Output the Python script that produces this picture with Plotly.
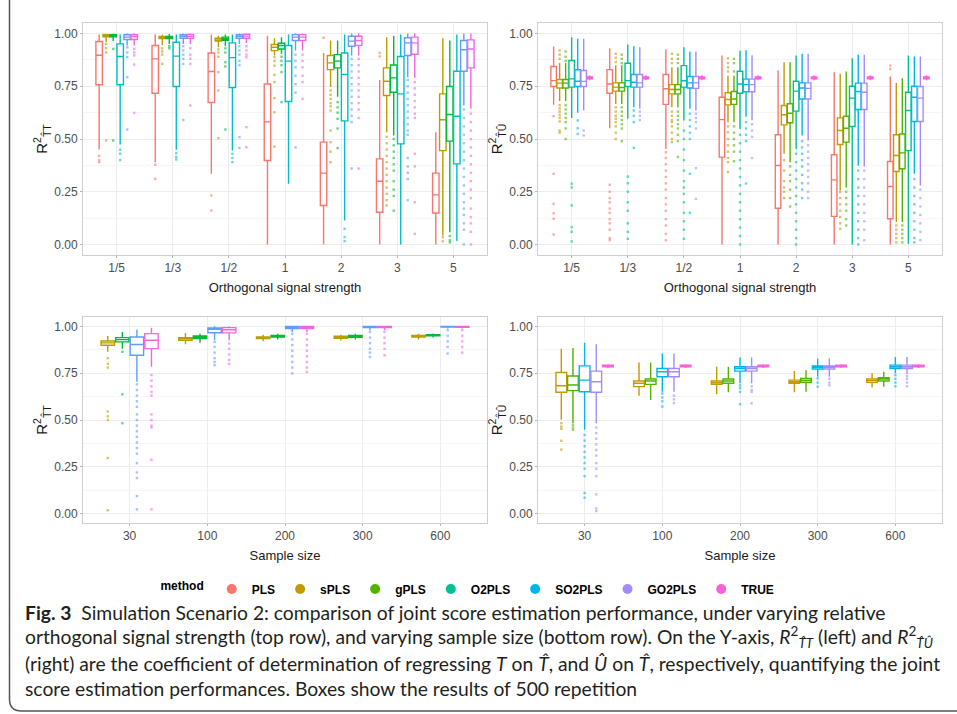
import plotly.graph_objects as go

# ---------------- data ----------------
TOP_CATS = ["1/5", "1/3", "1/2", "1", "2", "3", "5"]
BOT_CATS = ["30", "100", "200", "300", "600"]
METHODS = ["PLS", "sPLS", "gPLS", "O2PLS", "SO2PLS", "GO2PLS", "TRUE"]
COLORS6 = ["#F8766D", "#B79F00", "#00BA38", "#00BFC4", "#619CFF", "#F564E3"]
COLORS7 = ["#F8766D", "#C49A00", "#53B400", "#00C094", "#00B6EB", "#A58AFF", "#FB61D7"]

# Top-left: R2_TT vs orthogonal signal strength (rows = PLS..GO2PLS)
TL_Q1 = [[0.757, 0.717, 0.673, 0.398, 0.185, 0.153, 0.149],
         [0.984, 0.976, 0.964, 0.919, 0.829, 0.706, 0.445],
         [0.984, 0.976, 0.968, 0.927, 0.837, 0.722, 0.490],
         [0.757, 0.749, 0.744, 0.678, 0.586, 0.477, 0.382],
         [0.972, 0.978, 0.978, 0.967, 0.940, 0.896, 0.821],
         [0.972, 0.978, 0.978, 0.967, 0.944, 0.902, 0.837]]
TL_MED = [[0.897, 0.880, 0.820, 0.581, 0.338, 0.300, 0.235],
          [0.990, 0.980, 0.970, 0.935, 0.861, 0.774, 0.591],
          [0.990, 0.980, 0.975, 0.943, 0.869, 0.790, 0.616],
          [0.891, 0.893, 0.886, 0.869, 0.806, 0.714, 0.608],
          [0.983, 0.987, 0.987, 0.983, 0.964, 0.956, 0.923],
          [0.986, 0.987, 0.988, 0.983, 0.967, 0.956, 0.927]]
TL_Q3 = [[0.962, 0.943, 0.908, 0.761, 0.485, 0.406, 0.338],
         [0.994, 0.986, 0.978, 0.948, 0.896, 0.837, 0.714],
         [0.994, 0.986, 0.983, 0.954, 0.900, 0.851, 0.749],
         [0.951, 0.959, 0.956, 0.943, 0.908, 0.891, 0.821],
         [0.994, 0.995, 0.995, 0.995, 0.987, 0.980, 0.967],
         [0.995, 0.996, 0.997, 0.995, 0.987, 0.983, 0.970]]
TL_LF = [[0.450, 0.390, 0.335, 0.000, 0.000, 0.000, 0.000],
         [0.960, 0.945, 0.935, 0.896, 0.746, 0.532, 0.043],
         [0.965, 0.950, 0.940, 0.904, 0.700, 0.517, 0.058],
         [0.474, 0.449, 0.445, 0.288, 0.114, 0.000, 0.016],
         [0.943, 0.950, 0.950, 0.920, 0.896, 0.793, 0.659],
         [0.943, 0.950, 0.955, 0.920, 0.896, 0.790, 0.643]]
TL_UF = [[0.995, 0.995, 0.995, 0.990, 0.908, 0.780, 0.532],
         [0.999, 0.995, 0.990, 0.978, 0.967, 0.983, 0.978],
         [0.999, 0.998, 0.995, 0.983, 0.967, 0.990, 0.967],
         [0.995, 0.995, 0.995, 0.995, 0.995, 0.995, 0.995],
         [1.000, 1.000, 1.000, 1.000, 1.000, 1.000, 1.000],
         [1.000, 1.000, 1.000, 1.000, 1.000, 1.000, 1.000]]
TL_OUT = [
    [[0.42, 0.40, 0.39], [0.378, 0.311], [0.232, 0.161], [], [0.98], [0.908, 0.891], []],
    [[0.95, 0.93, 0.91, 0.493], [0.93, 0.915, 0.90, 0.856], [0.925, 0.91, 0.89, 0.817, 0.73, 0.504],
     [0.888, 0.87, 0.848, 0.804, 0.77, 0.694, 0.627, 0.464],
     [0.73, 0.71, 0.69, 0.67, 0.655, 0.635, 0.54, 0.485, 0.44, 0.39],
     [0.51, 0.48, 0.45, 0.42, 0.39, 0.36, 0.33, 0.30, 0.27, 0.24, 0.21, 0.185], [0.035, 0.015]],
    [[0.927, 0.493], [0.94, 0.93], [0.93, 0.91, 0.864, 0.844, 0.545], [0.89, 0.87, 0.85, 0.817, 0.675],
     [0.675, 0.65, 0.625, 0.596, 0.55, 0.457],
     [0.50, 0.47, 0.44, 0.41, 0.38, 0.35, 0.30, 0.26, 0.23, 0.16], [0.04, 0.02, 0.01]],
    [[0.449, 0.43, 0.40], [0.433, 0.415, 0.403], [0.43, 0.41, 0.39], [], [0.074, 0.035, 0.016], [], []],
    [[0.935, 0.91, 0.888, 0.793, 0.545], [0.94, 0.92, 0.90, 0.88, 0.856, 0.59],
     [0.94, 0.92, 0.90, 0.87, 0.85, 0.509, 0.458], [0.90, 0.87, 0.84, 0.80, 0.76, 0.72, 0.46],
     [0.88, 0.85, 0.82, 0.79, 0.76, 0.73, 0.70, 0.67, 0.64, 0.61, 0.58, 0.36],
     [0.78, 0.75, 0.72, 0.69, 0.66, 0.63, 0.60, 0.57, 0.54, 0.52, 0.41, 0.37, 0.34, 0.31, 0.21],
     [0.64, 0.60, 0.56, 0.52, 0.48, 0.44, 0.40, 0.36, 0.32, 0.28, 0.24, 0.20, 0.17, 0.14, 0.10, 0.07, 0.0]],
    [[0.927, 0.91, 0.896, 0.853, 0.624], [0.93, 0.90, 0.88, 0.856, 0.659],
     [0.94, 0.92, 0.90, 0.888, 0.556, 0.461], [0.90, 0.87, 0.84, 0.80, 0.77, 0.69],
     [0.88, 0.85, 0.82, 0.79, 0.76, 0.73, 0.70, 0.67, 0.64, 0.60, 0.36],
     [0.77, 0.74, 0.71, 0.68, 0.65, 0.62, 0.60, 0.43, 0.37, 0.20, 0.05],
     [0.62, 0.58, 0.54, 0.50, 0.46, 0.42, 0.38, 0.34, 0.30, 0.26, 0.22, 0.17, 0.13, 0.10, 0.06, 0.0]],
]

# Top-right: R2_TU vs orthogonal signal strength (rows = PLS..TRUE)
TR_Q1 = [[0.749, 0.717, 0.664, 0.414, 0.172, 0.133, 0.122],
         [0.742, 0.727, 0.714, 0.662, 0.567, 0.474, 0.346],
         [0.742, 0.727, 0.714, 0.664, 0.577, 0.485, 0.359],
         [0.746, 0.749, 0.746, 0.717, 0.632, 0.559, 0.445],
         [0.749, 0.746, 0.742, 0.724, 0.690, 0.640, 0.583],
         [0.749, 0.746, 0.740, 0.724, 0.690, 0.640, 0.583],
         [0.786, 0.786, 0.786, 0.786, 0.786, 0.786, 0.786]]
TR_MED = [[0.777, 0.761, 0.738, 0.592, 0.374, 0.306, 0.275],
          [0.765, 0.746, 0.735, 0.687, 0.615, 0.540, 0.422],
          [0.765, 0.744, 0.735, 0.690, 0.622, 0.551, 0.434],
          [0.785, 0.777, 0.776, 0.761, 0.727, 0.694, 0.635],
          [0.774, 0.769, 0.766, 0.758, 0.742, 0.725, 0.698],
          [0.773, 0.766, 0.766, 0.758, 0.740, 0.722, 0.694],
          [0.790, 0.790, 0.790, 0.790, 0.790, 0.790, 0.790]]
TR_Q3 = [[0.844, 0.829, 0.806, 0.698, 0.520, 0.425, 0.393],
         [0.782, 0.766, 0.758, 0.719, 0.659, 0.600, 0.520],
         [0.782, 0.766, 0.758, 0.725, 0.667, 0.608, 0.524],
         [0.872, 0.859, 0.848, 0.821, 0.774, 0.750, 0.722],
         [0.828, 0.806, 0.796, 0.784, 0.766, 0.765, 0.750],
         [0.825, 0.806, 0.796, 0.784, 0.766, 0.765, 0.749],
         [0.794, 0.794, 0.794, 0.794, 0.794, 0.794, 0.794]]
TR_LF = [[0.662, 0.551, 0.453, 0.000, 0.000, 0.000, 0.000],
         [0.680, 0.666, 0.650, 0.580, 0.430, 0.256, 0.106],
         [0.680, 0.666, 0.650, 0.580, 0.390, 0.270, 0.106],
         [0.599, 0.596, 0.588, 0.548, 0.453, 0.000, 0.003],
         [0.624, 0.651, 0.643, 0.605, 0.517, 0.374, 0.335],
         [0.635, 0.643, 0.635, 0.589, 0.493, 0.370, 0.280],
         [0.778, 0.778, 0.778, 0.778, 0.778, 0.778, 0.778]]
TR_UF = [[0.938, 0.930, 0.924, 0.896, 0.825, 0.817, 0.796],
         [0.860, 0.850, 0.840, 0.800, 0.864, 0.809, 0.765],
         [0.860, 0.850, 0.840, 0.800, 0.864, 0.820, 0.788],
         [0.983, 0.948, 0.935, 0.919, 0.896, 0.883, 0.896],
         [0.975, 0.940, 0.915, 0.921, 0.904, 0.900, 0.891],
         [0.975, 0.935, 0.915, 0.897, 0.904, 0.900, 0.891],
         [0.802, 0.802, 0.802, 0.802, 0.802, 0.802, 0.802]]
TR_OUT = [
    [[0.608, 0.335, 0.193, 0.148, 0.122, 0.047],
     [0.283, 0.25, 0.22, 0.20, 0.17, 0.15, 0.12, 0.10, 0.07, 0.03, 0.02],
     [0.437, 0.41, 0.38, 0.35, 0.32, 0.29, 0.26, 0.22, 0.19, 0.16, 0.12, 0.09, 0.05, 0.02],
     [], [], [], [0.848, 0.832]],
    [[0.92, 0.90, 0.88, 0.66, 0.645, 0.63, 0.615, 0.60, 0.583, 0.54, 0.53],
     [0.904, 0.885, 0.865, 0.65, 0.63, 0.61, 0.596, 0.58, 0.56, 0.53, 0.50],
     [0.904, 0.88, 0.86, 0.63, 0.61, 0.59, 0.58, 0.56, 0.53, 0.50, 0.485],
     [0.883, 0.86, 0.84, 0.82, 0.56, 0.532, 0.50, 0.47, 0.44, 0.41, 0.39, 0.343],
     [0.40, 0.35, 0.30, 0.27, 0.25, 0.22],
     [0.248, 0.22, 0.19, 0.16, 0.13, 0.10, 0.074],
     [0.09, 0.07, 0.05, 0.03, 0.01]],
    [[0.915, 0.89, 0.87, 0.66, 0.64, 0.62, 0.60, 0.58, 0.55, 0.50],
     [0.90, 0.88, 0.86, 0.65, 0.63, 0.61, 0.59, 0.57, 0.55, 0.49],
     [0.90, 0.88, 0.86, 0.63, 0.61, 0.59, 0.57, 0.55, 0.52, 0.49, 0.415],
     [0.88, 0.86, 0.82, 0.56, 0.53, 0.50, 0.47, 0.44, 0.395],
     [0.37, 0.33, 0.30, 0.26, 0.22, 0.18],
     [0.25, 0.22, 0.19, 0.16, 0.12, 0.09],
     [0.09, 0.07, 0.05, 0.03, 0.01]],
    [[0.288, 0.27, 0.185, 0.082, 0.06, 0.014],
     [0.322, 0.29, 0.25, 0.20, 0.16, 0.10, 0.06, 0.027],
     [0.54, 0.50, 0.45, 0.40, 0.35, 0.30, 0.27, 0.24, 0.20, 0.15, 0.11, 0.07, 0.027],
     [0.52, 0.48, 0.44, 0.40, 0.36, 0.32, 0.28, 0.24, 0.20, 0.16, 0.12, 0.08, 0.04, 0.0],
     [0.43, 0.39, 0.35, 0.31, 0.27, 0.23, 0.19, 0.15, 0.11, 0.07, 0.03, 0.0],
     [], []],
    [[0.588, 0.551, 0.524], [0.635, 0.61, 0.58, 0.458],
     [0.62, 0.59, 0.56, 0.53, 0.50, 0.335, 0.15], [0.58, 0.55, 0.52, 0.49, 0.289],
     [0.49, 0.46, 0.43, 0.40, 0.37, 0.33, 0.29, 0.26, 0.22],
     [0.35, 0.31, 0.27, 0.23, 0.19, 0.15, 0.11, 0.07, 0.03, 0.0],
     [0.31, 0.27, 0.23, 0.19, 0.15, 0.11, 0.07, 0.03, 0.01]],
    [[0.54, 0.517], [0.63, 0.61, 0.59], [0.62, 0.60, 0.58, 0.55, 0.362, 0.216],
     [0.57, 0.54, 0.51, 0.41],
     [0.47, 0.44, 0.41, 0.38, 0.35, 0.32, 0.29, 0.25, 0.22],
     [0.35, 0.31, 0.27, 0.23, 0.19, 0.15, 0.11, 0.07, 0.02],
     [0.26, 0.22, 0.18, 0.14, 0.10, 0.06, 0.02]],
    None,
]

# Bottom-left: R2_TT vs sample size (rows = PLS..GO2PLS)
BL_Q1 = [[0.253, 0.611, 0.819, 0.869, 0.913],
         [0.899, 0.926, 0.935, 0.936, 0.943],
         [0.917, 0.935, 0.943, 0.942, 0.949],
         [0.409, 0.811, 0.935, 0.956, 0.984],
         [0.846, 0.966, 0.988, 0.993, 0.996],
         [0.881, 0.965, 0.988, 0.993, 0.995]]
BL_MED = [[0.412, 0.761, 0.887, 0.906, 0.938],
          [0.912, 0.935, 0.938, 0.940, 0.947],
          [0.929, 0.942, 0.947, 0.947, 0.952],
          [0.575, 0.917, 0.966, 0.982, 0.991],
          [0.903, 0.984, 0.995, 0.996, 0.998],
          [0.926, 0.982, 0.995, 0.996, 0.998]]
BL_Q3 = [[0.572, 0.869, 0.931, 0.943, 0.956],
         [0.922, 0.940, 0.943, 0.947, 0.952],
         [0.940, 0.949, 0.952, 0.952, 0.956],
         [0.731, 0.956, 0.984, 0.993, 0.996],
         [0.943, 0.991, 1.000, 1.000, 1.000],
         [0.961, 0.993, 1.000, 1.000, 1.000]]
BL_LF = [[0.003, 0.232, 0.669, 0.766, 0.855],
         [0.864, 0.904, 0.920, 0.925, 0.930],
         [0.881, 0.912, 0.930, 0.930, 0.940],
         [0.027, 0.598, 0.864, 0.899, 0.961],
         [0.704, 0.926, 0.970, 0.979, 0.988],
         [0.784, 0.926, 0.970, 0.979, 0.988]]
BL_UF = [[0.940, 0.982, 0.993, 0.993, 0.991],
         [0.949, 0.965, 0.955, 0.955, 0.960],
         [0.970, 0.961, 0.960, 0.960, 0.962],
         [0.949, 0.988, 1.000, 1.000, 1.000],
         [0.982, 1.000, 1.000, 1.000, 1.000],
         [0.993, 1.000, 1.000, 1.000, 1.000]]
BL_OUT = [
    [[], [0.18, 0.165, 0.156, 0.088], [0.65, 0.62, 0.60, 0.58, 0.55, 0.53, 0.483, 0.407],
     [0.75, 0.72, 0.70, 0.67, 0.642], [0.846, 0.83, 0.807]],
    [[0.83, 0.80, 0.78, 0.545, 0.52, 0.50, 0.297, 0.018], [], [], [], []],
    [[0.864, 0.637, 0.483], [], [], [], []],
    [[], [0.58, 0.55, 0.52, 0.49, 0.46, 0.43, 0.40, 0.37, 0.35],
     [0.846, 0.82, 0.79, 0.76, 0.73, 0.70, 0.68, 0.66, 0.598, 0.572, 0.434],
     [0.89, 0.86, 0.83, 0.80, 0.77, 0.745, 0.726], [0.952, 0.93, 0.90, 0.87, 0.84, 0.81, 0.664]],
    [[0.69, 0.66, 0.63, 0.60, 0.57, 0.53, 0.50, 0.47, 0.44, 0.41, 0.38, 0.35, 0.32, 0.27, 0.22, 0.19, 0.094, 0.023],
     [0.917, 0.89, 0.86, 0.83, 0.81, 0.793], [0.96, 0.93, 0.90, 0.87, 0.84, 0.81, 0.78, 0.749],
     [0.97, 0.94, 0.91, 0.88, 0.86, 0.837], [0.98, 0.95, 0.92, 0.89, 0.855]],
    [[0.74, 0.71, 0.68, 0.65, 0.63, 0.53, 0.50, 0.47, 0.46, 0.288, 0.023],
     [0.908, 0.88, 0.85, 0.82, 0.80], [0.96, 0.93, 0.90, 0.87, 0.84, 0.81, 0.78, 0.757],
     [0.97, 0.94, 0.91, 0.88, 0.846], [0.98, 0.95, 0.92, 0.89, 0.86]],
]

# Bottom-right: R2_TU vs sample size (rows = PLS..TRUE)
BR_Q1 = [[0.227, 0.533, 0.648, 0.678, 0.699],
         [0.648, 0.678, 0.690, 0.696, 0.701],
         [0.657, 0.690, 0.696, 0.701, 0.708],
         [0.386, 0.731, 0.770, 0.779, 0.781],
         [0.651, 0.731, 0.761, 0.772, 0.775],
         [0.648, 0.731, 0.761, 0.772, 0.775],
         [0.784, 0.784, 0.784, 0.784, 0.784]]
BR_MED = [[0.630, 0.683, 0.713, 0.726, 0.727],
          [0.683, 0.696, 0.699, 0.704, 0.710],
          [0.687, 0.708, 0.708, 0.711, 0.719],
          [0.665, 0.775, 0.789, 0.793, 0.793],
          [0.713, 0.758, 0.775, 0.781, 0.784],
          [0.704, 0.758, 0.775, 0.781, 0.784],
          [0.788, 0.788, 0.788, 0.788, 0.788]]
BR_Q3 = [[0.878, 0.789, 0.770, 0.761, 0.752],
         [0.754, 0.708, 0.708, 0.713, 0.719],
         [0.735, 0.719, 0.719, 0.722, 0.726],
         [0.896, 0.855, 0.837, 0.825, 0.807],
         [0.789, 0.775, 0.784, 0.788, 0.793],
         [0.761, 0.775, 0.784, 0.788, 0.793],
         [0.792, 0.792, 0.792, 0.792, 0.792]]
BR_LF = [[0.000, 0.165, 0.483, 0.554, 0.651],
         [0.501, 0.630, 0.637, 0.648, 0.673],
         [0.483, 0.607, 0.648, 0.651, 0.678],
         [0.003, 0.545, 0.669, 0.713, 0.749],
         [0.448, 0.651, 0.696, 0.731, 0.749],
         [0.483, 0.651, 0.696, 0.731, 0.745],
         [0.778, 0.778, 0.778, 0.778, 0.778]]
BR_UF = [[0.973, 0.904, 0.867, 0.837, 0.811],
         [0.881, 0.807, 0.784, 0.761, 0.749],
         [0.885, 0.807, 0.784, 0.766, 0.758],
         [0.970, 0.913, 0.876, 0.864, 0.837],
         [0.912, 0.855, 0.834, 0.828, 0.837],
         [0.904, 0.855, 0.834, 0.828, 0.837],
         [0.798, 0.798, 0.798, 0.798, 0.798]]
BR_OUT = [
    [[], [0.147, 0.12, 0.10, 0.08, 0.06, 0.04, 0.018], [0.474, 0.45, 0.42, 0.40, 0.377, 0.28],
     [0.545, 0.52, 0.501], [0.642, 0.62, 0.60, 0.577]],
    [[0.483, 0.465, 0.453, 0.389, 0.342], [], [], [], []],
    [[0.474, 0.46, 0.448], [], [], [], []],
    [[], [0.527, 0.50, 0.47, 0.44, 0.412, 0.319, 0.244], [0.651, 0.63, 0.61, 0.58, 0.51, 0.48, 0.444],
     [0.704, 0.68, 0.66, 0.64, 0.62, 0.598], [0.736, 0.72, 0.70, 0.685, 0.669, 0.607]],
    [[0.42, 0.39, 0.36, 0.33, 0.30, 0.27, 0.24, 0.20, 0.11, 0.085], [0.642, 0.62, 0.60, 0.572],
     [0.685, 0.67, 0.65, 0.584], [0.722, 0.70, 0.678], [0.74, 0.72, 0.70, 0.68]],
    [[0.46, 0.43, 0.40, 0.37, 0.34, 0.31, 0.27, 0.24, 0.20, 0.103, 0.028, 0.014],
     [0.63, 0.61, 0.59], [0.68, 0.66, 0.65, 0.589], [0.72, 0.70, 0.685], [0.735, 0.72, 0.70, 0.68]],
    None,
]

Y_TICKS = [0.0, 0.25, 0.5, 0.75, 1.0]
Y_TICKTEXT = ["0.00", "0.25", "0.50", "0.75", "1.00"]

CAPTION_LINES = [
    "<b>Fig. 3</b>  Simulation Scenario 2: comparison of joint score estimation performance, under varying relative",
    "orthogonal signal strength (top row), and varying sample size (bottom row). On the Y-axis, "
    "<i>R</i><sup>2</sup><sub><i>T\u0302T</i></sub> (left) and <i>R</i><sup>2</sup><sub><i>T\u0302\u00db</i></sub>",
    "(right) are the coefficient of determination of regressing <i>T</i> on <i>T\u0302</i>, and <i>\u00db</i> on "
    "<i>T\u0302</i>, respectively, quantifying the joint",
    "score estimation performances. Boxes show the results of 500 repetition",
]

# ---------------- figure ----------------
W, H = 957, 714
fig = go.Figure()


def add_panel(xa, ya, group, cats, q1, med, q3, lf, uf, out, colors):
    for i in range(len(q1)):
        m = METHODS[i]
        kw = {}
        if out[i] is not None:
            kw["y"] = out[i]
        fig.add_trace(go.Box(
            x=cats, q1=q1[i], median=med[i], q3=q3[i],
            lowerfence=lf[i], upperfence=uf[i],
            orientation="v", name=m, showlegend=False,
            alignmentgroup=group, offsetgroup=m,
            boxpoints="all", pointpos=0, jitter=0, whiskerwidth=0,
            line=dict(color=colors[i], width=1.4), fillcolor="white",
            marker=dict(color=colors[i], size=2.4, symbol="square", opacity=0.6),
            xaxis=xa, yaxis=ya, hoverinfo="skip", **kw))


add_panel("x", "y", "TL", TOP_CATS, TL_Q1, TL_MED, TL_Q3, TL_LF, TL_UF, TL_OUT, COLORS6)
add_panel("x2", "y2", "TR", TOP_CATS, TR_Q1, TR_MED, TR_Q3, TR_LF, TR_UF, TR_OUT, COLORS7)
add_panel("x3", "y3", "BL", BOT_CATS, BL_Q1, BL_MED, BL_Q3, BL_LF, BL_UF, BL_OUT, COLORS6)
add_panel("x4", "y4", "BR", BOT_CATS, BR_Q1, BR_MED, BR_Q3, BR_LF, BR_UF, BR_OUT, COLORS7)

# legend keys (shared legend for all panels)
for m, c in zip(METHODS, COLORS7):
    fig.add_trace(go.Scatter(x=[None], y=[None], mode="markers", name=m,
                             marker=dict(color=c, size=10, symbol="circle"),
                             xaxis="x2", yaxis="y2", showlegend=True, hoverinfo="skip"))


def px_x(v):
    return v / W


def px_y(v):
    return 1 - v / H


TICKFONT = dict(family="Liberation Sans, Arial, sans-serif", size=12, color="#4d4d4d")
TITLEFONT = dict(family="Liberation Sans, Arial, sans-serif", size=13, color="#1a1a1a")
YTITLEFONT = dict(family="Liberation Sans, Arial, sans-serif", size=15, color="#1a1a1a")


def xaxis(dom, n, anchor, title):
    return dict(domain=dom, anchor=anchor, type="category", range=[-0.6, n - 0.4],
                showgrid=True, gridcolor="#ededed", gridwidth=1,
                showline=True, mirror=True, linecolor="#cfcfcf", linewidth=1,
                ticks="outside", ticklen=2, tickcolor="#b3b3b3",
                tickfont=TICKFONT, title=dict(text=title, font=TITLEFONT, standoff=8),
                zeroline=False, fixedrange=True)


def yaxis(dom, anchor, title):
    return dict(domain=dom, anchor=anchor, range=[-0.05, 1.05], type="linear",
                tickvals=Y_TICKS, ticktext=Y_TICKTEXT,
                showgrid=True, gridcolor="#ededed", gridwidth=1,
                minor=dict(tickvals=[0.125, 0.375, 0.625, 0.875], showgrid=True,
                           gridcolor="#f6f6f6", gridwidth=1, ticks=""),
                showline=True, mirror=True, linecolor="#cfcfcf", linewidth=1,
                ticks="outside", ticklen=2, tickcolor="#b3b3b3",
                tickfont=TICKFONT, title=dict(text=title, font=YTITLEFONT, standoff=2),
                zeroline=False, fixedrange=True)


XL = [px_x(83), px_x(487)]
XR = [px_x(538), px_x(942)]
YT = [px_y(255), px_y(23)]
YB = [px_y(523), px_y(317)]

TT = "R<sup>2</sup><sub>T\u0302T</sub>"
TU = "R<sup>2</sup><sub>T\u0302\u00db</sub>"

fig.update_layout(
    width=W, height=H, margin=dict(l=0, r=0, t=0, b=0),
    paper_bgcolor="white", plot_bgcolor="white",
    boxmode="group", boxgap=0.25, boxgroupgap=0.08,
    xaxis=xaxis(XL, 7, "y", "Orthogonal signal strength"),
    yaxis=yaxis(YT, "x", TT),
    xaxis2=xaxis(XR, 7, "y2", "Orthogonal signal strength"),
    yaxis2=yaxis(YT, "x2", TU),
    xaxis3=xaxis(XL, 5, "y3", "Sample size"),
    yaxis3=yaxis(YB, "x3", TT),
    xaxis4=xaxis(XR, 5, "y4", "Sample size"),
    yaxis4=yaxis(YB, "x4", TU),
    legend=dict(orientation="h", x=0.49, xanchor="center", y=px_y(589), yanchor="middle",
                title=dict(text="<b>method</b>", side="left",
                           font=dict(family="Liberation Sans, Arial, sans-serif", size=12, color="black")),
                font=dict(family="Liberation Sans, Arial, sans-serif", size=12, color="black", weight="bold"),
                itemwidth=30, bgcolor="rgba(0,0,0,0)"),
    showlegend=True,
)

CAP_FONT = dict(family="Lato, Liberation Sans, sans-serif", size=19.3, color="#231f20")
for k, (line, yc) in enumerate(zip(CAPTION_LINES, [612, 637, 663, 688])):
    fig.add_annotation(text=line, xref="paper", yref="paper", x=px_x(23), y=px_y(yc),
                       xanchor="left", yanchor="middle", align="left", showarrow=False,
                       font=CAP_FONT)

# outer figure frame (left edge with rounded bottom corner)
r_x, r_y = 12 / W, 12 / H
x0, yb = px_x(9.5), px_y(711)
fig.add_shape(type="path", xref="paper", yref="paper",
              path=f"M {x0},1.02 L {x0},{yb + r_y} Q {x0},{yb} {x0 + r_x},{yb} L 1.02,{yb}",
              line=dict(color="#555555", width=1.5))

fig.write_html("out.html", config={"displayModeBar": False},
               post_script="document.body.style.margin='0';")
